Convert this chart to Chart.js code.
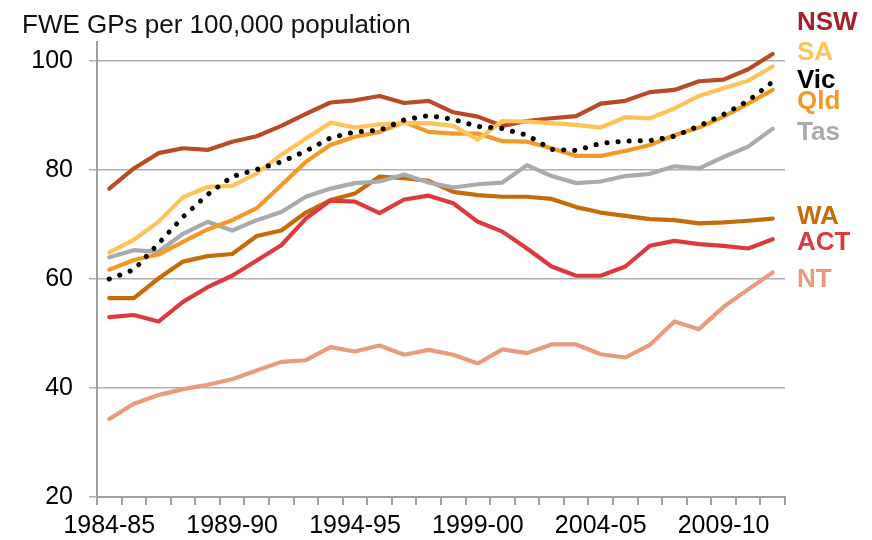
<!DOCTYPE html>
<html>
<head>
<meta charset="utf-8">
<script src="https://cdn.jsdelivr.net/npm/chart.js@4/dist/chart.umd.min.js"></script>
<style>
  html, body { margin: 0; padding: 0; background: #fff; }
  #wrap { width: 872px; height: 540px; }
</style>
</head>
<body>
<div id="wrap"><canvas id="graficoGPs" width="872" height="540"></canvas></div>
<script>
const anos = ['1984-85', '1985-86', '1986-87', '1987-88', '1988-89', '1989-90', '1990-91',
  '1991-92', '1992-93', '1993-94', '1994-95', '1995-96', '1996-97', '1997-98', '1998-99',
  '1999-00', '2000-01', '2001-02', '2002-03', '2003-04', '2004-05', '2005-06', '2006-07',
  '2007-08', '2008-09', '2009-10', '2010-11', '2011-12'];
const anosVisiveis = ['1984-85', '1989-90', '1994-95', '1999-00', '2004-05', '2009-10'];
const ticksY = [20, 40, 60, 80, 100];

const nsw = [76.6, 80.3, 83.1, 84.0, 83.7, 85.2, 86.2, 88.1, 90.3, 92.4, 92.8, 93.6, 92.3, 92.7,
  90.6, 89.8, 88.1, 89.0, 89.5, 89.9, 92.2, 92.7, 94.3, 94.7, 96.3, 96.6, 98.5, 101.3];
const sa = [64.9, 67.2, 70.5, 75.0, 76.9, 77.1, 79.4, 82.8, 85.8, 88.7, 87.8, 88.4, 88.6, 88.6,
  88.1, 85.6, 89.0, 88.9, 88.6, 88.3, 87.8, 89.7, 89.5, 91.3, 93.6, 95.0, 96.4, 99.0];
const vic = [60.0, 61.7, 66.5, 71.4, 75.5, 78.8, 80.1, 81.5, 83.5, 85.9, 87.0, 87.3, 89.2, 90.0,
  89.3, 88.0, 87.6, 86.4, 83.8, 83.6, 84.9, 85.3, 85.4, 86.2, 88.1, 90.2, 92.7, 96.2];
const qld = [61.7, 63.5, 64.5, 66.8, 69.1, 70.8, 73.0, 77.2, 81.5, 84.6, 86.1, 87.0, 88.8, 87.0,
  86.7, 86.7, 85.3, 85.2, 84.0, 82.6, 82.6, 83.5, 84.6, 86.4, 87.8, 89.8, 92.2, 94.7];
const tas = [64.0, 65.3, 65.0, 68.3, 70.5, 68.9, 70.8, 72.3, 75.1, 76.6, 77.6, 77.9, 79.2, 77.7,
  76.8, 77.4, 77.7, 80.9, 78.9, 77.6, 77.9, 78.9, 79.3, 80.7, 80.3, 82.4, 84.3, 87.6];
const wa = [56.5, 56.5, 60.1, 63.2, 64.2, 64.6, 67.9, 68.9, 72.2, 74.5, 75.7, 78.8, 78.5, 78.0,
  76.0, 75.4, 75.1, 75.1, 74.7, 73.2, 72.2, 71.6, 71.0, 70.8, 70.2, 70.4, 70.7, 71.1];
const act = [53.0, 53.4, 52.2, 55.8, 58.5, 60.6, 63.4, 66.2, 71.1, 74.4, 74.2, 72.1, 74.6, 75.3,
  73.9, 70.5, 68.7, 65.6, 62.3, 60.6, 60.6, 62.3, 66.1, 67.0, 66.4, 66.1, 65.6, 67.3];
const nt = [34.3, 37.1, 38.7, 39.8, 40.6, 41.6, 43.2, 44.8, 45.1, 47.5, 46.7, 47.8, 46.1, 47.0,
  46.1, 44.5, 47.1, 46.4, 48.0, 48.0, 46.2, 45.6, 47.9, 52.2, 50.8, 54.9, 58.1, 61.2];

const estados = ['NSW', 'SA', 'Vic', 'Qld', 'Tas', 'WA', 'ACT', 'NT'];
// where each name sits on the right, in axis units
const posRotulos = [107.1, 101.5, 96.3, 92.5, 86.9, 71.5, 66.6, 59.9];
const corRotulos = ['#a3222a', '#ffc35a', '#000000', '#f39a26', '#a7abaf', '#c46c0a', '#dc3a3f', '#e99b7d'];

const fonte = "'Liberation Sans', Arial, sans-serif";

function serie(nome, valores, cor) {
  return {
    label: nome,
    data: valores,
    borderColor: cor,
    borderWidth: 4.2,
    borderCapStyle: 'round',
    borderJoinStyle: 'round',
    pointRadius: 0,
    tension: 0,
    fill: false
  };
}

const vicSerie = serie('Vic', vic, '#000000');
vicSerie.borderDash = [0.1, 11];
vicSerie.borderWidth = 5;

const rotulos = {
  id: 'rotulos',
  afterDraw(chart) {
    const ctx = chart.ctx;
    const y = chart.scales.y;
    ctx.save();
    ctx.font = '26px ' + fonte;
    ctx.fillStyle = '#111';
    ctx.textAlign = 'left';
    ctx.textBaseline = 'alphabetic';
    ctx.fillText('FWE GPs per 100,000 population', 22, 33);
    ctx.font = 'bold 26px ' + fonte;
    ctx.textBaseline = 'middle';
    estados.forEach((e, i) => {
      ctx.fillStyle = corRotulos[i];
      ctx.fillText(e, 797, y.getPixelForValue(posRotulos[i]));
    });
    ctx.restore();
  }
};

new Chart(document.getElementById('graficoGPs'), {
  type: 'line',
  data: {
    labels: anos,
    datasets: [
      vicSerie,
      serie('SA', sa, '#ffc35a'),
      serie('NSW', nsw, '#b94a26'),
      serie('Qld', qld, '#f39a26'),
      serie('Tas', tas, '#a7abaf'),
      serie('ACT', act, '#dc3a3f'),
      serie('WA', wa, '#c46c0a'),
      serie('NT', nt, '#e99b7d')
    ]
  },
  options: {
    responsive: false,
    animation: false,
    layout: { padding: { left: 0, right: 87, top: 42, bottom: 0 } },
    plugins: {
      legend: { display: false },
      tooltip: { enabled: false }
    },
    scales: {
      x: {
        offset: true,
        grid: { offset: true, drawOnChartArea: false, drawTicks: true, tickLength: 8, color: '#a0a0a0', lineWidth: 2 },
        border: { display: true, color: '#a0a0a0', width: 2 },
        ticks: {
          autoSkip: false,
          maxRotation: 0,
          padding: 6,
          color: '#000',
          font: { family: fonte, size: 25 },
          callback: function (v, i) {
            return anosVisiveis.includes(anos[i]) ? anos[i] : '';
          }
        },
        afterFit(scale) { scale.height = 43; }
      },
      y: {
        min: 20,
        max: 103.5,
        grid: { color: '#b0b0b0', lineWidth: 1.5, tickLength: 8 },
        border: { display: true, color: '#a0a0a0', width: 2 },
        ticks: {
          padding: 16,
          color: '#000',
          font: { family: fonte, size: 25 }
        },
        afterBuildTicks(scale) {
          scale.ticks = ticksY.map(v => ({ value: v }));
        },
        afterFit(scale) { scale.width = 97; }
      }
    }
  },
  plugins: [rotulos]
});
</script>
</body>
</html>
